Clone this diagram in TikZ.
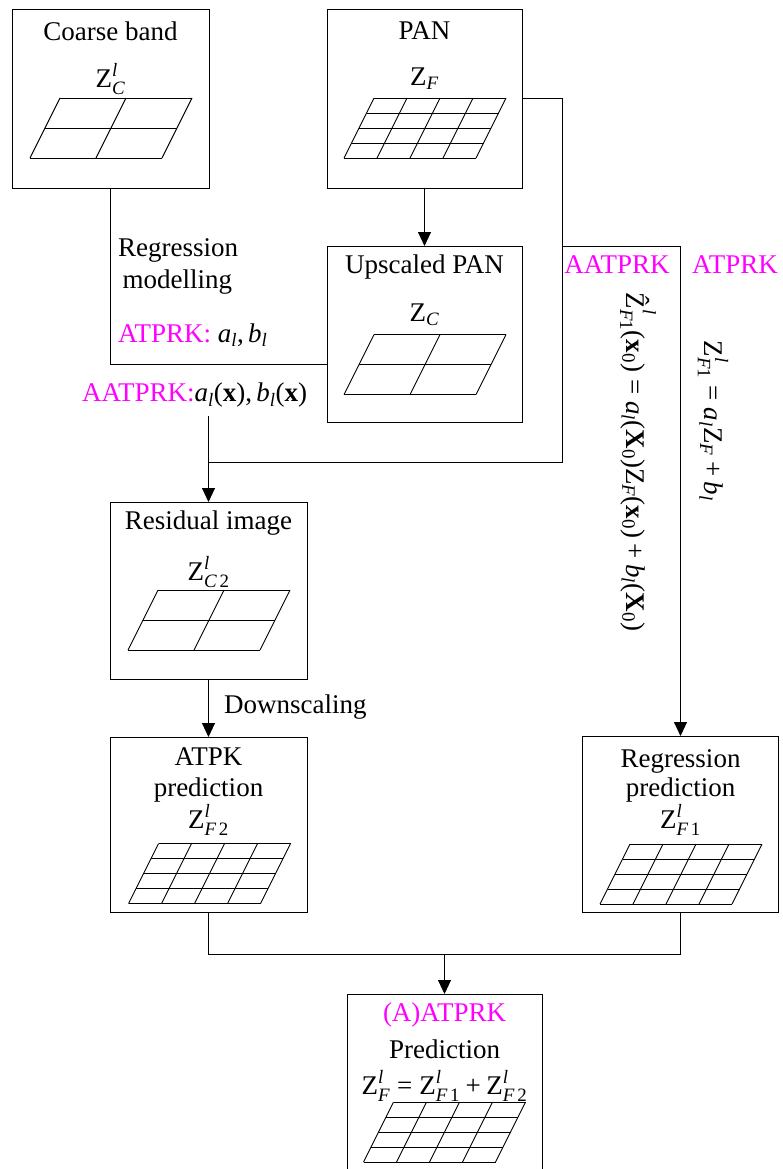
\documentclass[tikz,border=0pt]{standalone}
\usepackage{amsmath}
\usepackage{fontspec}
\setmainfont{Liberation Serif}
\usetikzlibrary{arrows.meta}

\definecolor{mgt}{RGB}{255,0,255}

% upright Z, italic indices, bold vectors, all in the text font
\newcommand\ZZ{\text{Z}}
\newcommand\mi[1]{\text{\itshape #1}}
\newcommand\bx[1]{\text{\bfseries #1}}
\newcommand\tx[1]{\text{#1}}
\newcommand\eqs{\mathrel{\text{=}}}
\newcommand\pls{\mathbin{\text{+}}}

\tikzset{
  box/.style={draw, line width=0.9pt, inner sep=0pt, outer sep=0pt},
  lbl/.style={inner sep=0pt, font=\fontsize{27}{32}\selectfont},
  mag/.style={lbl, text=mgt},
  link/.style={line width=0.9pt},
  arr/.style={link, -{Triangle[length=14pt,width=13pt]}},
  pics/cells/.style={code={
    \foreach \i in {0,...,#1}{
      \draw[line width=0.9pt] ({-51+132*\i/#1},-30) -- ({-81+132*\i/#1},30);
      \draw[line width=0.9pt] ({-51-30*\i/#1},{-30+60*\i/#1}) -- ({81-30*\i/#1},{-30+60*\i/#1});
    }
  }}
}

\begin{document}
\begin{tikzpicture}[x=1pt,y=-1pt]
\useasboundingbox (0,0) rectangle (782,1169);
\clip (0,0) rectangle (782,1169);

% boxes
\node[box, minimum width=197, minimum height=179] (coarse) at (110.5,98.5) {};
\node[box, minimum width=195, minimum height=179] (pan) at (424.5,98.5) {};
\node[box, minimum width=195, minimum height=176] (ups) at (424.5,334) {};
\node[box, minimum width=197, minimum height=177] (res) at (208.5,590.5) {};
\node[box, minimum width=197, minimum height=175] (atpk) at (208.5,824.5) {};
\node[box, minimum width=196, minimum height=176] (regp) at (680.5,824) {};
\node[inner sep=0pt, outer sep=0pt, minimum width=195, minimum height=200, anchor=north] (fin) at (444.5,994) {};
\draw[link] (fin.south west) -- (fin.north west) -- (fin.north east) -- (fin.south east);

% cell grids
\pic at (111,128) {cells=2};
\pic at (425,128) {cells=4};
\pic at (425,364.5) {cells=2};
\pic at (209,620) {cells=2};
\pic at (209.5,873.5) {cells=4};
\pic at (681,874) {cells=4};
\pic at (444.5,1132) {cells=4};

% box texts
\node[lbl] (t1) at (110.5,31) {Coarse band};
\node[lbl] (m1) at (110.5,79) {$\ZZ^{\mi{l}}_{\mi{C}}$};
\node[lbl] (t2) at (424.5,31) {PAN};
\node[lbl] (m2) at (424.5,79) {$\ZZ_{\mi{F}}$};
\node[lbl] (t3) at (424.5,267) {Upscaled PAN};
\node[lbl] (m3) at (424.5,315) {$\ZZ_{\mi{C}}$};
\node[lbl] (t4) at (208.5,523) {Residual image};
\node[lbl] (m4) at (208.5,572) {$\ZZ^{\mi{l}}_{\mi{C}\,\tx{2}}$};
\node[lbl] (t5) at (208.5,757) {ATPK};
\node[lbl] (t6) at (208.5,790) {prediction};
\node[lbl] (m5) at (208.5,820) {$\ZZ^{\mi{l}}_{\mi{F}\,\tx{2}}$};
\node[lbl] (t7) at (680.5,761) {Regression};
\node[lbl] (t8) at (680.5,790) {prediction};
\node[lbl] (m6) at (680.5,820) {$\ZZ^{\mi{l}}_{\mi{F}\,\tx{1}}$};
\node[mag] (t9) at (444.5,1015) {(A)ATPRK};
\node[lbl] (t10) at (444.5,1049) {Prediction};
\node[lbl] (m7) at (444.5,1086) {$\ZZ^{\mi{l}}_{\mi{F}} \eqs \ZZ^{\mi{l}}_{\mi{F}\,\tx{1}} \pls \ZZ^{\mi{l}}_{\mi{F}\,\tx{2}}$};

% labels along the connectors
\node[lbl, anchor=west] (r1) at (118,250) {Regression};
\node[lbl, anchor=west] (r2) at (118,282) {\,modelling};
\node[lbl, anchor=west] (r3) at (118,335) {\textcolor{mgt}{ATPRK:} $\mi{a}_{\mi{l}}\tx{,}\,\mi{b}_{\mi{l}}$};
\node[lbl, anchor=west] (r4) at (82,395) {\textcolor{mgt}{AATPRK:}$\mi{a}_{\mi{l}}\tx{(}\bx{x}\tx{),}\,\mi{b}_{\mi{l}}\tx{(}\bx{x}\tx{)}$};
\node[lbl, anchor=west] (dn) at (224,707) {Downscaling};
\node[mag] (k1) at (617,265) {AATPRK};
\node[mag] (k2) at (735,265) {ATPRK};
\node[lbl, rotate=-90] (f1) at (638,462) {$\text{\^{Z}}^{\mi{l}}_{\mi{F}\tx{1}}\tx{(}\bx{x}_{\tx{0}}\tx{)} \eqs \mi{a}_{\mi{l}}\tx{(}\bx{X}_{\tx{0}}\tx{)}\ZZ_{\mi{F}}\tx{(}\bx{x}_{\tx{0}}\tx{)} \pls \mi{b}_{\mi{l}}\tx{(}\bx{X}_{\tx{0}}\tx{)}$};
\node[lbl, rotate=-90] (f2) at (713,421) {$\ZZ^{\mi{l}}_{\mi{F}\tx{1}} \eqs \mi{a}_{\mi{l}}\ZZ_{\mi{F}} \pls \mi{b}_{\mi{l}}$};

% junction points
\coordinate (cj) at (110.5,364);
\coordinate (pr) at (562,98.5);
\coordinate (jb) at (562,246);
\coordinate (jr) at (562,462);
\coordinate (jl) at (208.5,462);
\coordinate (la) at (208.5,416);
\coordinate (jm) at (444.5,954);

% connectors
\draw[link] (coarse.south) -- (cj) -- (cj -| ups.west);
\draw[arr] (pan.south) -- (ups.north);
\draw[link] (pan.east) -- (pr) -- (jr) -- (jl);
\draw[arr] (la) -- (res.north);
\draw[arr] (jb) -| (regp.north);
\draw[arr] (res.south) -- (atpk.north);
\draw[link] (atpk.south) |- (jm) -| (regp.south);
\draw[arr] (jm) -- (fin.north);
\end{tikzpicture}
\end{document}
